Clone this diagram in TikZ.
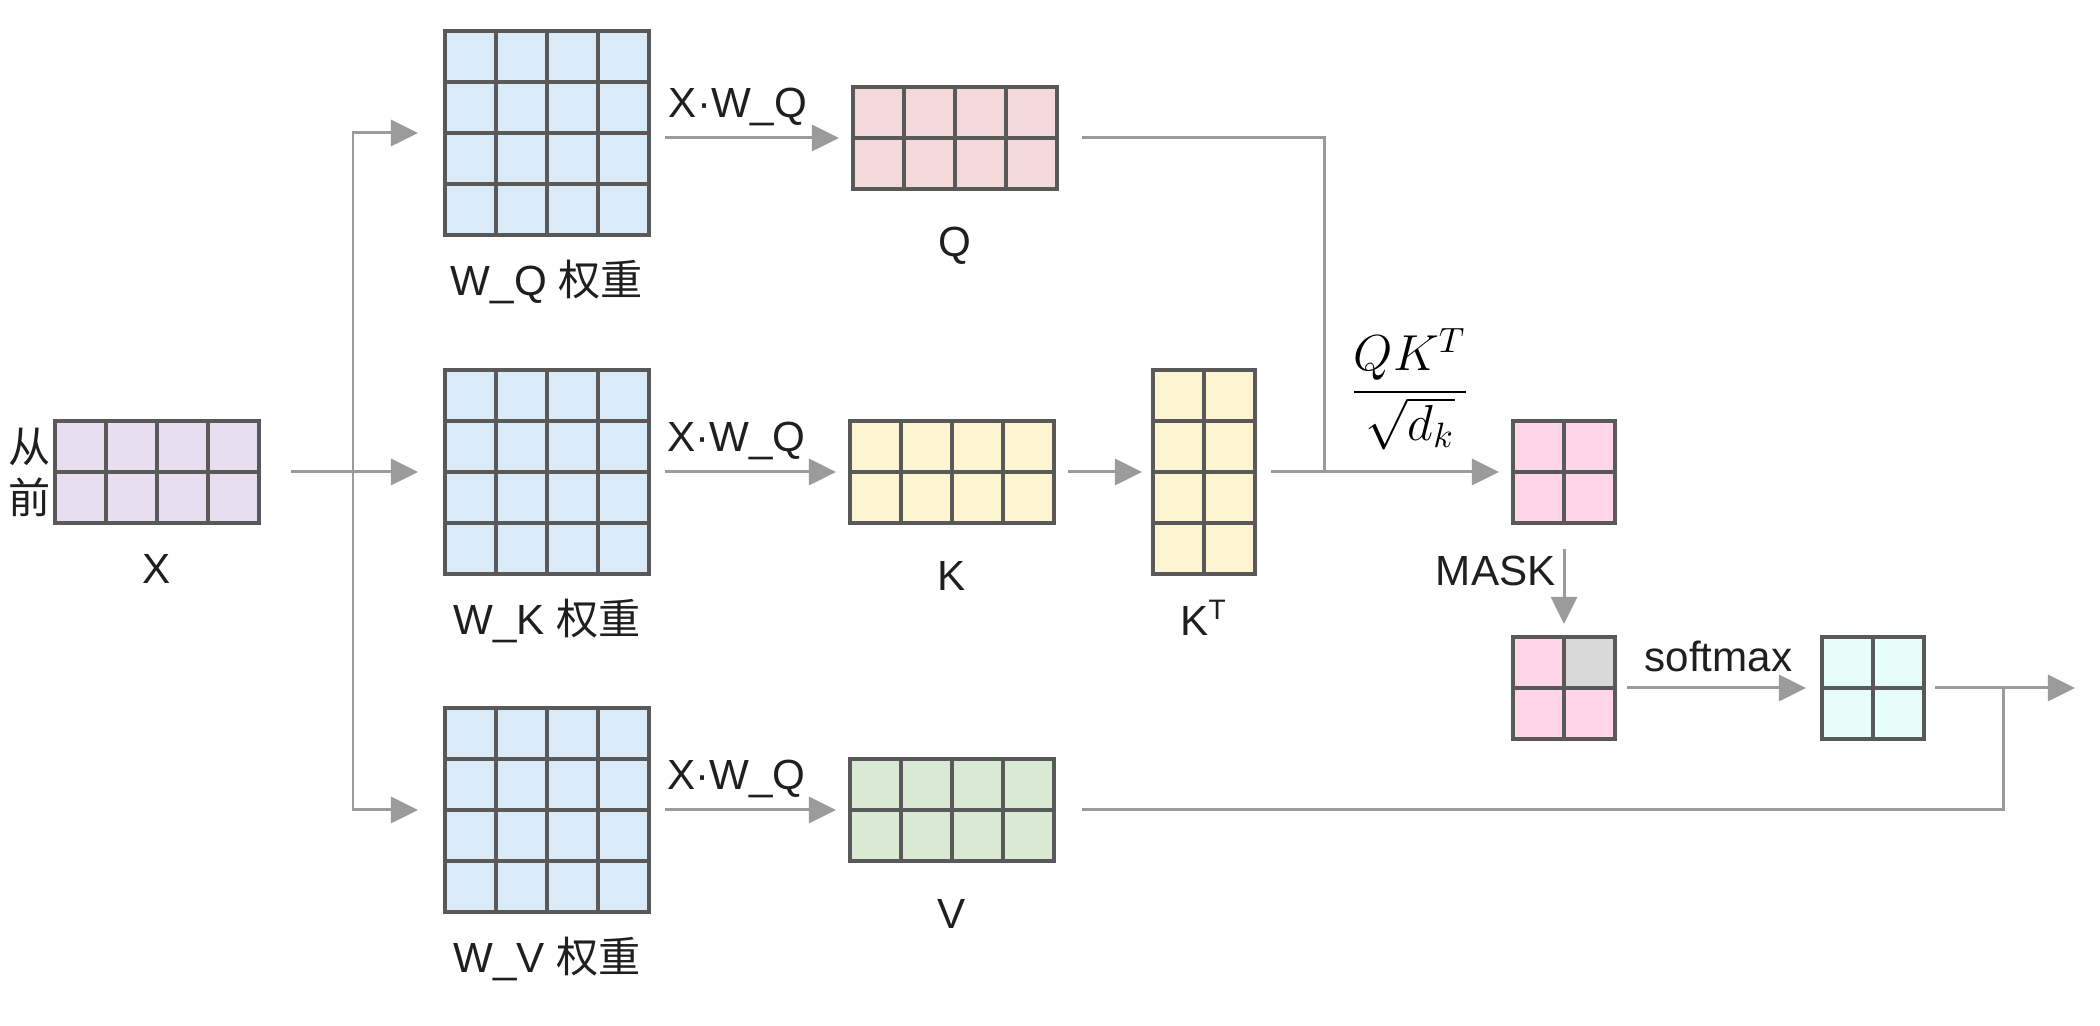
\documentclass[tikz,border=0pt]{standalone}
\usepackage{fontspec}
\setmainfont{Liberation Sans}
\newfontfamily\cjk{Noto Sans CJK SC}
\usetikzlibrary{arrows.meta,calc,positioning}

\definecolor{cellgray}{RGB}{89,89,89}
\definecolor{linegray}{RGB}{155,155,155}
\definecolor{colX}{RGB}{233,221,240}
\definecolor{colW}{RGB}{218,234,247}
\definecolor{colQ}{RGB}{244,217,218}
\definecolor{colK}{RGB}{253,245,209}
\definecolor{colV}{RGB}{217,234,212}
\definecolor{colS}{RGB}{255,213,231}
\definecolor{colM}{RGB}{217,217,217}
\definecolor{colP}{RGB}{230,255,250}

% matrix of cells: name, columns, rows, colour, centre
\newcommand{\matcells}[5]{%
	\node[matbox, fill=#4, minimum width=#2*0.51cm, minimum height=#3*0.51cm] (#1) at (#5) {};
	\draw[cellline, shift={(#1.south west)}] (0,0) grid[step=0.51] (#2*0.51,#3*0.51);
}

\begin{document}
\begin{tikzpicture}[>={Triangle[length=7.7pt,width=7.4pt]},
	matbox/.style={draw=cellgray, line width=0.9pt, inner sep=0pt, outer sep=0pt},
	cellline/.style={draw=cellgray, line width=0.9pt},
	link/.style={draw=linegray, line width=0.85pt},
	arr/.style={link, ->, shorten >=0.14cm, shorten <=0.16cm},
	lbl/.style={font=\fontsize{12}{14}\selectfont, text=black!88, inner sep=1pt, text height=8.8pt, text depth=2pt}]
	
	\useasboundingbox (0,0) rectangle (21,-10.26);
	
	% Draw the input matrix
	\matcells{X}{4}{2}{colX}{1.57,-4.72}
	\node[lbl, below=2.5mm of X] (lX) {X};
	\node[lbl, anchor=east, align=center, text height=, text depth=, font=\cjk\fontsize{12}{14.5}\selectfont] (from) at (X.west) {从\\前};
	
	% Draw the weight matrices
	\matcells{WQ}{4}{4}{colW}{5.47,-1.33}
	\matcells{WK}{4}{4}{colW}{5.47,-4.72}
	\matcells{WV}{4}{4}{colW}{5.47,-8.10}
	\node[lbl, below=2.5mm of WQ] (lWQ) {W\_Q {\cjk 权重}};
	\node[lbl, below=2.5mm of WK] (lWK) {W\_K {\cjk 权重}};
	\node[lbl, below=2.5mm of WV] (lWV) {W\_V {\cjk 权重}};
	
	% Draw Q, K, V
	\matcells{Q}{4}{2}{colQ}{9.55,-1.38}
	\matcells{K}{4}{2}{colK}{9.52,-4.72}
	\matcells{V}{4}{2}{colV}{9.52,-8.10}
	\node[lbl, below=3.2mm of Q] (lQ) {Q};
	\node[lbl, below=3.2mm of K] (lK) {K};
	\node[lbl, below=3.2mm of V] (lV) {V};
	
	% Draw K transposed
	\matcells{KT}{2}{4}{colK}{12.04,-4.72}
	\node[lbl, below=2.6mm of KT] (lKT) {K\textsuperscript{T}};
	
	% Draw scores, masked scores and softmax output
	\matcells{S}{2}{2}{colS}{15.64,-4.72}
	\matcells{M}{2}{2}{colS}{15.64,-6.88}
	\fill[colM] (M.center) rectangle (M.north east);
	\draw[cellline] (M.center) rectangle (M.north east);
	\matcells{P}{2}{2}{colP}{18.73,-6.88}
	
	\node[font=\fontsize{14}{17}\selectfont] (frac) at (14.10,-3.89) {$\displaystyle\frac{QK^T}{\sqrt{d_k}}$};
	
	% Junction points
	\coordinate (xj) at (3.53,-4.72);
	\coordinate (jq) at (13.24,-4.72);
	\coordinate (jv) at (20.03,-6.88);
	\coordinate (out) at (20.75,-6.88);
	
	% Draw X into the weights
	\draw[link] ($(X.east)+(0.32,0)$) -- (xj);
	\draw[arr, shorten <=0pt, shorten >=0.27cm] (xj) |- (WQ.west);
	\draw[arr, shorten <=0pt, shorten >=0.27cm] (xj) -- (WK.west);
	\draw[arr, shorten <=0pt, shorten >=0.27cm] (xj) |- (WV.west);
	
	% Draw the projections
	\draw[arr] (WQ.east |- Q.west) -- (Q.west) node[lbl, midway, above=0.8mm, xshift=-1.3mm] {X·W\_Q};
	\draw[arr] (WK.east) -- (K.west) node[lbl, midway, above=0.8mm, xshift=-1.3mm] {X·W\_Q};
	\draw[arr] (WV.east) -- (V.west) node[lbl, midway, above=0.8mm, xshift=-1.3mm] {X·W\_Q};
	
	% Draw the attention path
	\draw[arr, shorten <=0.14cm, shorten >=0.11cm] (K) -- (KT);
	\draw[link] ($(Q.east)+(0.25,0)$) -| (jq);
	\draw[arr] (KT) -- (S);
	\draw[arr, shorten <=0.26cm, shorten >=0.13cm] (S) -- (M) node[lbl, pos=0.44, left=0.35mm] {MASK};
	\draw[arr, shorten <=0.12cm, shorten >=0.16cm] (M) -- (P) node[lbl, midway, above=0.4mm] {softmax};
	\draw[link] ($(V.east)+(0.28,0)$) -| (jv);
	\draw[arr, shorten <=0.11cm, shorten >=0pt] (P) -- (out);

\end{tikzpicture}
\end{document}
